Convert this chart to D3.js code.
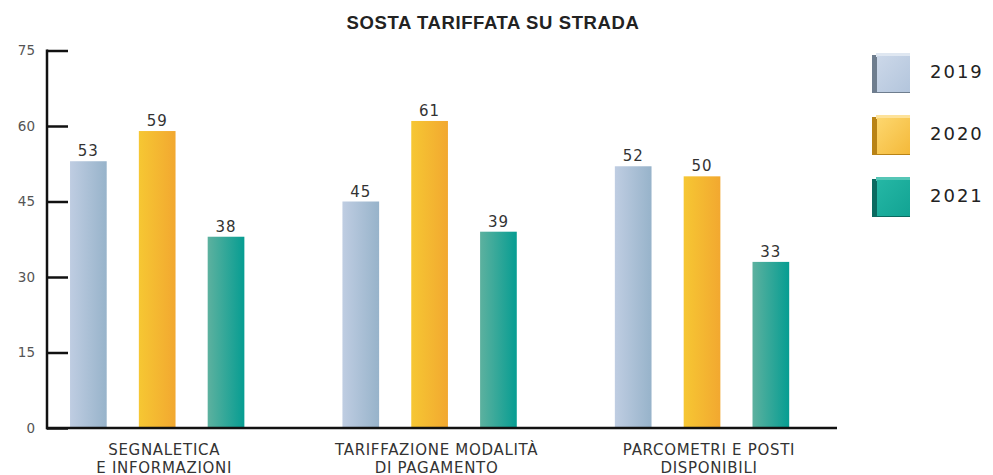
<!DOCTYPE html>
<html>
<head>
<meta charset="utf-8">
<script src="https://cdnjs.cloudflare.com/ajax/libs/d3/7.8.5/d3.min.js"></script>
<style>
  html, body { margin: 0; padding: 0; background: #fff; }
  svg { display: block; }
</style>
</head>
<body>
<svg id="chart" width="993" height="475"></svg>
<script>
const categories = [['SEGNALETICA', 'E INFORMAZIONI'], ['TARIFFAZIONE MODALITÀ', 'DI PAGAMENTO'], ['PARCOMETRI E POSTI', 'DISPONIBILI']];
const years = ['2019', '2020', '2021'];
const values2019 = [53, 45, 52];
const values2020 = [59, 61, 50];
const values2021 = [38, 39, 33];
const yTicks = [0, 15, 30, 45, 60, 75];

const series = [values2019, values2020, values2021];
const svg = d3.select('#chart');
const font = "'DejaVu Sans', sans-serif";

// gradients for bars + legend boxes
const defs = svg.append('defs');
const barColors = [['#bfcde2', '#97b3ca'], ['#f6c733', '#f2a830'], ['#5db19f', '#069d92']];
barColors.forEach((c, i) => {
    const g = defs.append('linearGradient').attr('id', 'bar' + i)
        .attr('x1', 0).attr('x2', 1).attr('y1', 0).attr('y2', 0);
    g.append('stop').attr('offset', 0).attr('stop-color', c[0]);
    g.append('stop').attr('offset', 1).attr('stop-color', c[1]);
});

const groupIdx = categories.map((d, i) => i);
const x0 = d3.scaleBand().domain(groupIdx).range([47, 837])
    .paddingInner(0.36).paddingOuter(0.13).align(0.325);
const x1 = d3.scaleBand().domain(years).range([0, x0.bandwidth()])
    .paddingInner(0.467).paddingOuter(0);
const y = d3.scaleLinear().domain([0, 75]).range([428, 50.5]);

// title
svg.append('text')
    .attr('x', 493).attr('y', 29)
    .attr('text-anchor', 'middle')
    .attr('font-family', "'Liberation Sans', Arial, sans-serif")
    .attr('font-weight', 'bold')
    .attr('font-size', 18.5)
    .attr('letter-spacing', 0.6)
    .attr('fill', '#222')
    .text('SOSTA TARIFFATA SU STRADA');

// bars
const groups = svg.append('g').selectAll('g')
    .data(groupIdx)
    .join('g')
    .attr('transform', d => `translate(${x0(d)},0)`);

const barData = g => years.map((yr, s) => ({ yr, s, v: series[s][g] }));

groups.selectAll('rect')
    .data(barData)
    .join('rect')
    .attr('x', d => x1(d.yr))
    .attr('y', d => y(d.v))
    .attr('width', x1.bandwidth())
    .attr('height', d => y(0) - y(d.v))
    .attr('fill', d => `url(#bar${d.s})`);

groups.selectAll('text.val')
    .data(barData)
    .join('text')
    .attr('class', 'val')
    .attr('x', d => x1(d.yr) + x1.bandwidth() / 2)
    .attr('y', d => y(d.v) - 5)
    .attr('text-anchor', 'middle')
    .attr('font-family', font)
    .attr('font-size', 15)
    .attr('letter-spacing', 1)
    .attr('fill', '#333')
    .text(d => d.v);

// y axis
const yAxis = d3.axisRight(y).tickValues(yTicks).tickSize(21).tickFormat('');
const ya = svg.append('g').attr('transform', 'translate(47,0)').call(yAxis);
ya.select('.domain').remove();
ya.selectAll('.tick line').attr('stroke', '#111').attr('stroke-width', 2.5);
svg.append('line')
    .attr('x1', 47).attr('x2', 47).attr('y1', y(75) - 1).attr('y2', y(0) + 1.25)
    .attr('stroke', '#111').attr('stroke-width', 2.5);

svg.append('g').selectAll('text')
    .data(yTicks)
    .join('text')
    .attr('x', 35)
    .attr('y', d => y(d))
    .attr('dy', '0.35em')
    .attr('text-anchor', 'end')
    .attr('font-family', font)
    .attr('font-size', 13.5)
    .attr('fill', '#555')
    .text(d => d);

// x axis
svg.append('line')
    .attr('x1', 46).attr('x2', 837).attr('y1', y(0)).attr('y2', y(0))
    .attr('stroke', '#111').attr('stroke-width', 2.5);

const catLabels = svg.append('g').selectAll('text')
    .data(groupIdx)
    .join('text')
    .attr('x', d => x0(d) + x0.bandwidth() / 2 + 7)
    .attr('y', 455)
    .attr('text-anchor', 'middle')
    .attr('font-family', font)
    .attr('font-size', 15)
    .attr('letter-spacing', 0.7)
    .attr('fill', '#333');
catLabels.selectAll('tspan')
    .data(d => categories[d])
    .join('tspan')
    .attr('x', function () { return d3.select(this.parentNode).attr('x'); })
    .attr('dy', (d, i) => i ? 17.5 : 0)
    .text(d => d);

// legend with bevelled boxes
const legendFront = [['#ccd8e9', '#b3c5dc'], ['#fdd76e', '#f4b93a'], ['#25b7a5', '#12a393']];
const legendSide = ['#6e7d8e', '#b98316', '#0b6a60'];
const legendTop = ['#dfe7f1', '#fde29a', '#55c6b6'];
legendFront.forEach((c, i) => {
    const g = defs.append('linearGradient').attr('id', 'leg' + i)
        .attr('x1', 0).attr('x2', 1).attr('y1', 0).attr('y2', 1);
    g.append('stop').attr('offset', 0).attr('stop-color', c[0]);
    g.append('stop').attr('offset', 1).attr('stop-color', c[1]);
});

const legend = svg.append('g').selectAll('g')
    .data(years)
    .join('g')
    .attr('transform', (d, i) => `translate(872,${53 + i * 62})`);

legend.append('rect')
    .attr('x', 0).attr('y', 2).attr('width', 38).attr('height', 38)
    .attr('fill', (d, i) => legendSide[i]);
legend.append('rect')
    .attr('x', 4).attr('y', 0).attr('width', 34).attr('height', 4)
    .attr('fill', (d, i) => legendTop[i]);
legend.append('rect')
    .attr('x', 5).attr('y', 3).attr('width', 33).attr('height', 36)
    .attr('fill', (d, i) => `url(#leg${i})`);

legend.append('text')
    .attr('x', 58).attr('y', 19)
    .attr('dy', '0.36em')
    .attr('font-family', font)
    .attr('font-size', 18)
    .attr('letter-spacing', 2)
    .attr('fill', '#222')
    .text(d => d);
</script>
</body>
</html>
